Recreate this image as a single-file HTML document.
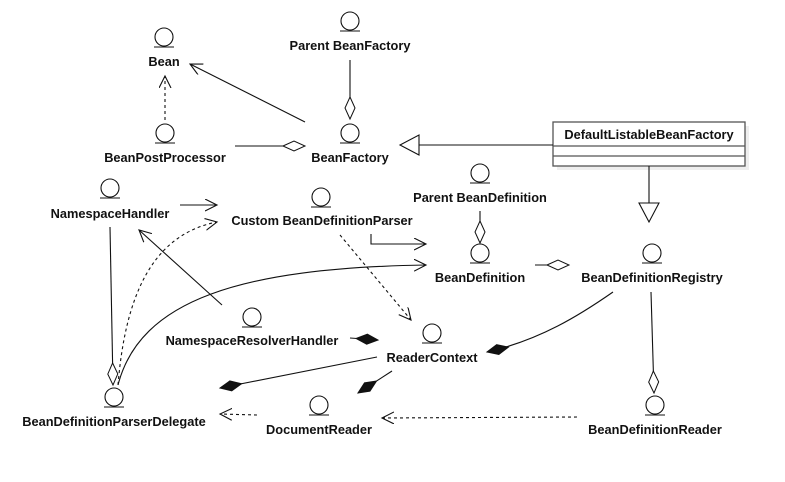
<!DOCTYPE html>
<html><head><meta charset="utf-8"><style>
html,body{margin:0;padding:0;background:#fff;}
svg{display:block;}
text{font-family:"Liberation Sans",sans-serif;font-weight:bold;font-size:12.8px;fill:#111;text-anchor:middle;}
</style></head><body>
<svg width="785" height="482" viewBox="0 0 785 482" xmlns="http://www.w3.org/2000/svg">
<defs>
<marker id="arr" markerUnits="userSpaceOnUse" markerWidth="16" markerHeight="14" refX="12" refY="6" orient="auto"><path d="M0,0 L12,6 L0,12" fill="none" stroke="#111" stroke-width="1.1"/></marker>
<marker id="hd" markerUnits="userSpaceOnUse" markerWidth="26" markerHeight="14" refX="23" refY="6" orient="auto"><path d="M1,6 L12,1 L23,6 L12,11 Z" fill="#fff" stroke="#111" stroke-width="1"/></marker>
<marker id="fd" markerUnits="userSpaceOnUse" markerWidth="26" markerHeight="14" refX="23" refY="6" orient="auto"><path d="M1,6 L12,1 L23,6 L12,11 Z" fill="#111" stroke="#111" stroke-width="1"/></marker>
<marker id="tri" markerUnits="userSpaceOnUse" markerWidth="22" markerHeight="24" refX="20" refY="11" orient="auto"><path d="M1,1 L20,11 L1,21 Z" fill="#fff" stroke="#111" stroke-width="1.1"/></marker>
</defs>
<g fill="none" stroke="#111" stroke-width="1.1">
<circle cx="164" cy="37" r="9"/><line x1="154" y1="47" x2="174" y2="47"/>
<circle cx="350" cy="21" r="9"/><line x1="340" y1="31" x2="360" y2="31"/>
<circle cx="165" cy="133" r="9"/><line x1="155" y1="143" x2="175" y2="143"/>
<circle cx="350" cy="133" r="9"/><line x1="340" y1="143" x2="360" y2="143"/>
<circle cx="110" cy="188" r="9"/><line x1="100" y1="198" x2="120" y2="198"/>
<circle cx="321" cy="197" r="9"/><line x1="311" y1="207" x2="331" y2="207"/>
<circle cx="480" cy="173" r="9"/><line x1="470" y1="183" x2="490" y2="183"/>
<circle cx="480" cy="253" r="9"/><line x1="470" y1="263" x2="490" y2="263"/>
<circle cx="652" cy="253" r="9"/><line x1="642" y1="263" x2="662" y2="263"/>
<circle cx="252" cy="317" r="9"/><line x1="242" y1="327" x2="262" y2="327"/>
<circle cx="432" cy="333" r="9"/><line x1="422" y1="343" x2="442" y2="343"/>
<circle cx="114" cy="397" r="9"/><line x1="104" y1="407" x2="124" y2="407"/>
<circle cx="319" cy="405" r="9"/><line x1="309" y1="415" x2="329" y2="415"/>
<circle cx="655" cy="405" r="9"/><line x1="645" y1="415" x2="665" y2="415"/>
<rect x="557" y="126" width="192" height="44" fill="#eee" stroke="none"/>
<rect x="553" y="122" width="192" height="44" fill="#fff" stroke="#555" stroke-width="1.3"/>
<line x1="553" y1="146" x2="745" y2="146" stroke="#555" stroke-width="1.3"/>
<line x1="553" y1="156" x2="745" y2="156" stroke="#555" stroke-width="1.3"/>
<line x1="305" y1="122" x2="190" y2="64" marker-end="url(#arr)"/>
<line x1="165" y1="120" x2="165" y2="76" stroke-dasharray="3,3" marker-end="url(#arr)"/>
<line x1="235" y1="146" x2="305" y2="146" marker-end="url(#hd)"/>
<line x1="350" y1="60" x2="350" y2="119" marker-end="url(#hd)"/>
<line x1="553" y1="145" x2="400" y2="145" marker-end="url(#tri)"/>
<line x1="649" y1="166" x2="649" y2="222" marker-end="url(#tri)"/>
<line x1="180" y1="205" x2="217" y2="205" marker-end="url(#arr)"/>
<path d="M118,385 C125,300 150,235 217,222" stroke-dasharray="3,3" marker-end="url(#arr)"/>
<line x1="110" y1="227" x2="113" y2="385" marker-end="url(#hd)"/>
<line x1="222" y1="305" x2="139" y2="230" marker-end="url(#arr)"/>
<path d="M118,385 C140,300 240,268 426,265" marker-end="url(#arr)"/>
<path d="M371,234 L371,244 L426,244" marker-end="url(#arr)"/>
<line x1="340" y1="235" x2="411" y2="320" stroke-dasharray="3,3" marker-end="url(#arr)"/>
<line x1="480" y1="211" x2="480" y2="243" marker-end="url(#hd)"/>
<line x1="535" y1="265" x2="569" y2="265" marker-end="url(#hd)"/>
<path d="M613,292 C580,315 540,340 487,352" marker-end="url(#fd)"/>
<line x1="651" y1="292" x2="654" y2="393" marker-end="url(#hd)"/>
<line x1="350" y1="338" x2="378" y2="340" marker-end="url(#fd)"/>
<line x1="377" y1="357" x2="220" y2="388" marker-end="url(#fd)"/>
<line x1="392" y1="371" x2="358" y2="393" marker-end="url(#fd)"/>
<line x1="257" y1="415" x2="220" y2="414" stroke-dasharray="3,3" marker-end="url(#arr)"/>
<line x1="577" y1="417" x2="382" y2="418" stroke-dasharray="3,3" marker-end="url(#arr)"/>
</g>
<text x="164" y="66">Bean</text>
<text x="350" y="50">Parent BeanFactory</text>
<text x="165" y="162">BeanPostProcessor</text>
<text x="350" y="162">BeanFactory</text>
<text x="110" y="218">NamespaceHandler</text>
<text x="322" y="225">Custom BeanDefinitionParser</text>
<text x="480" y="202">Parent BeanDefinition</text>
<text x="480" y="282">BeanDefinition</text>
<text x="652" y="282">BeanDefinitionRegistry</text>
<text x="252" y="345">NamespaceResolverHandler</text>
<text x="432" y="362">ReaderContext</text>
<text x="114" y="426">BeanDefinitionParserDelegate</text>
<text x="319" y="434">DocumentReader</text>
<text x="655" y="434">BeanDefinitionReader</text>
<text x="649" y="139">DefaultListableBeanFactory</text>
</svg>
</body></html>
